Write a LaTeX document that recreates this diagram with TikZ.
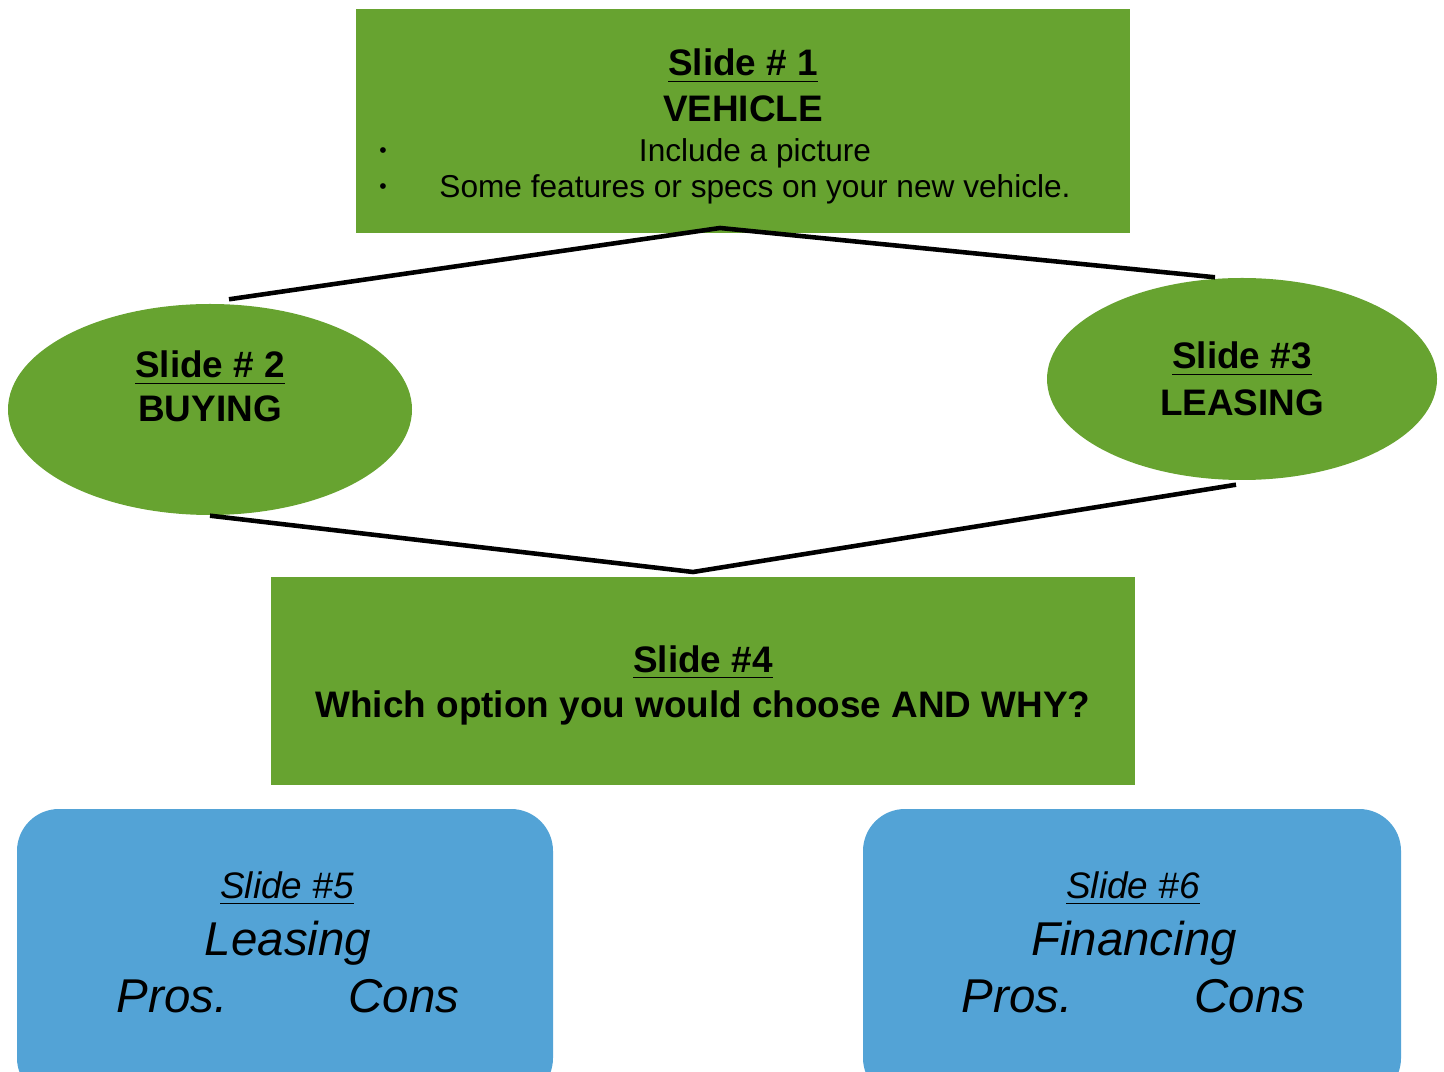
\documentclass[tikz,border=0pt]{standalone}
\usepackage{fontspec}
\setmainfont{Liberation Sans}
\usepackage{xcolor}
\usetikzlibrary{shapes.geometric}

\definecolor{leaf}{HTML}{67A330}
\definecolor{sky}{HTML}{53A3D6}

\begin{document}
\begin{tikzpicture}[
  greenbox/.style={rectangle, fill=leaf, inner sep=0pt},
  greenoval/.style={ellipse, fill=leaf, inner sep=0pt},
  bluebox/.style={rectangle, rounded corners=0.42cm, fill=sky, inner sep=0pt},
  head/.style={anchor=base, font=\bfseries\fontsize{10.5}{12}\selectfont},
  plain/.style={anchor=base, font=\fontsize{9}{11}\selectfont},
  dot/.style={anchor=base, font=\fontsize{6}{7}\selectfont},
  ithead/.style={anchor=base, font=\itshape\fontsize{10.5}{12}\selectfont},
  itbig/.style={anchor=base, font=\itshape\fontsize{13.5}{16}\selectfont},
  link/.style={line width=1.3pt, black}
]
  \useasboundingbox (0,0) rectangle (14.44,-10.72);
  \clip (0,0) rectangle (14.44,-10.72);

  % top box
  \node[greenbox, minimum width=7.74cm, minimum height=2.24cm] (veh) at (7.43,-1.21) {};
  \node[head] (vehA) at (7.43,-0.76) {\underline{Slide \# 1}};
  \node[head] (vehB) at (7.43,-1.22) {VEHICLE};
  \node[dot] (dotA) at (3.83,-1.58) {•};
  \node[dot] (dotB) at (3.83,-1.94) {•};
  \node[plain] (incl) at (7.55,-1.62) {Include a picture};
  \node[plain] (feat) at (7.55,-1.98) {Some features or specs on your new vehicle.};

  % the two ovals
  \node[greenoval, minimum width=4.04cm, minimum height=2.11cm] (buy) at (2.10,-4.095) {};
  \node[head] (buyA) at (2.10,-3.78) {\underline{Slide \# 2}};
  \node[head] (buyB) at (2.10,-4.22) {BUYING};

  \node[greenoval, minimum width=3.90cm, minimum height=2.02cm] (lease) at (12.42,-3.79) {};
  \node[head] (leaseA) at (12.42,-3.69) {\underline{Slide \#3}};
  \node[head] (leaseB) at (12.42,-4.16) {LEASING};

  % choice box
  \node[greenbox, minimum width=8.64cm, minimum height=2.08cm] (pick) at (7.03,-6.81) {};
  \node[head] (pickA) at (7.03,-6.72) {\underline{Slide \#4}};
  \node[head] (pickB) at (7.03,-7.17) {Which option you would choose AND WHY?};

  % lines between them
  \coordinate (topjoin) at (7.20,-2.28);
  \coordinate (lowjoin) at (6.93,-5.72);
  \draw[link] ([shift={(0.19,0.04)}]buy.north) -- (topjoin) -- ([xshift=-0.27cm]lease.north);
  \draw[link] (buy.south) -- (lowjoin) -- ([shift={(-0.06,-0.04)}]lease.south);

  % pros and cons boxes
  \node[bluebox, minimum width=5.36cm, minimum height=2.91cm] (lbox) at (2.85,-9.545) {};
  \node[ithead] (lboxA) at (2.87,-8.98) {\underline{Slide \#5}};
  \node[itbig] (lboxB) at (2.88,-9.55) {Leasing};
  \node[itbig] (lpro) at (1.72,-10.12) {Pros.};
  \node[itbig] (lcon) at (4.04,-10.12) {Cons};

  \node[bluebox, minimum width=5.38cm, minimum height=2.91cm] (fbox) at (11.32,-9.545) {};
  \node[ithead] (fboxA) at (11.33,-8.98) {\underline{Slide \#6}};
  \node[itbig] (fboxB) at (11.34,-9.55) {Financing};
  \node[itbig] (fpro) at (10.17,-10.12) {Pros.};
  \node[itbig] (fcon) at (12.50,-10.12) {Cons};
\end{tikzpicture}
\end{document}
